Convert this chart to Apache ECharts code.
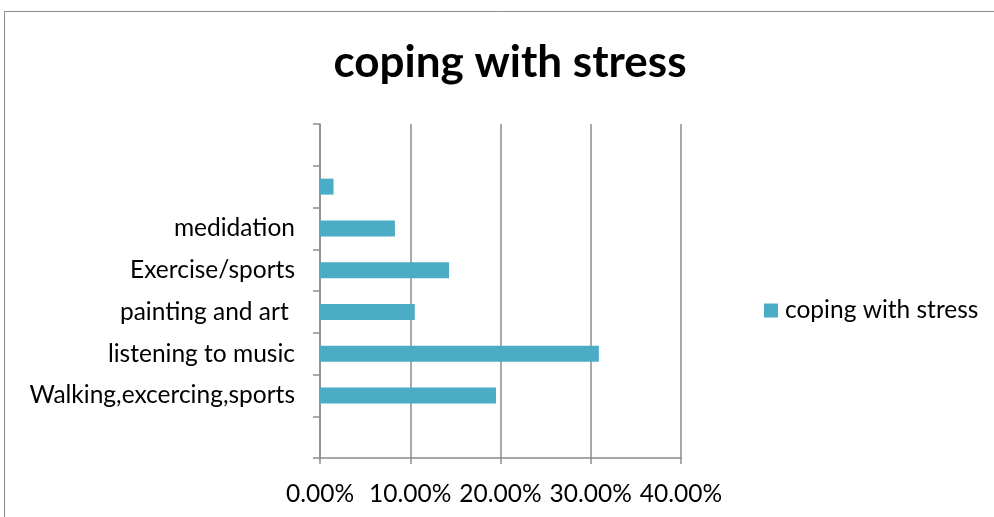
<!DOCTYPE html>
<html>
<head>
<meta charset="utf-8">
<script src="https://cdn.jsdelivr.net/npm/echarts@6/dist/echarts.min.js"></script>
<style>
  html, body { margin: 0; padding: 0; background: #fff; }
  #chart { width: 994px; height: 517px; }
</style>
</head>
<body>
<div id="chart"></div>
<script>
// categories bottom to top (blank slots keep the empty bands of the original)
const categorias = ["", "Walking,excercing,sports", "listening to music", "painting and art ", "Exercise/sports", "medidation", " ", "  "];
const valores = [null, 19.5, 30.9, 10.5, 14.3, 8.3, 1.5, null];
const ticksX = [0, 10, 20, 30, 40];

const chart = echarts.init(document.getElementById("chart"));

chart.setOption({
  animation: false,
  textStyle: { fontFamily: "Lato" },
  graphic: [
    {
      type: "rect",
      shape: { x: 4.5, y: 11.5, width: 1000, height: 600 },
      style: { fill: "none", stroke: "#8a8a8a", lineWidth: 1 },
    },
  ],
  title: {
    text: "coping with stress",
    left: 505,
    top: 36,
    textAlign: "center",
    textStyle: { fontFamily: "Lato", fontWeight: "bold", fontSize: 44, color: "#000" },
  },
  legend: {
    data: ["coping with stress"],
    left: 764,
    top: 298,
    padding: 0,
    itemWidth: 14,
    itemHeight: 14,
    itemGap: 6,
    icon: "rect",
    textStyle: { fontFamily: "Lato", fontSize: 24.5, color: "#000", padding: [0, 0, 0, 2] },
  },
  grid: { left: 320, right: 313, top: 124, bottom: 59 },
  xAxis: {
    type: "value",
    min: ticksX[0],
    max: ticksX[ticksX.length - 1],
    interval: 10,
    axisLine: { show: true, lineStyle: { color: "#8c8c8c", width: 1.5 } },
    axisTick: { show: true, length: 6, lineStyle: { color: "#8c8c8c", width: 1.5 } },
    splitLine: { show: true, lineStyle: { color: "#8c8c8c", width: 1.5 } },
    axisLabel: {
      fontSize: 24.5,
      color: "#000",
      margin: 24,
      formatter: (v) => v.toFixed(2) + "%",
    },
  },
  yAxis: {
    type: "category",
    data: categorias,
    axisLine: { show: true, lineStyle: { color: "#8c8c8c", width: 1.5 } },
    axisTick: { show: true, length: 7, lineStyle: { color: "#8c8c8c", width: 1.5 } },
    axisLabel: { fontSize: 24.5, color: "#000", margin: 25, interval: 0 },
  },
  series: [
    {
      name: "coping with stress",
      type: "bar",
      data: valores,
      barWidth: 16,
      itemStyle: { color: "#4bacc6" },
    },
  ],
});
</script>
</body>
</html>
